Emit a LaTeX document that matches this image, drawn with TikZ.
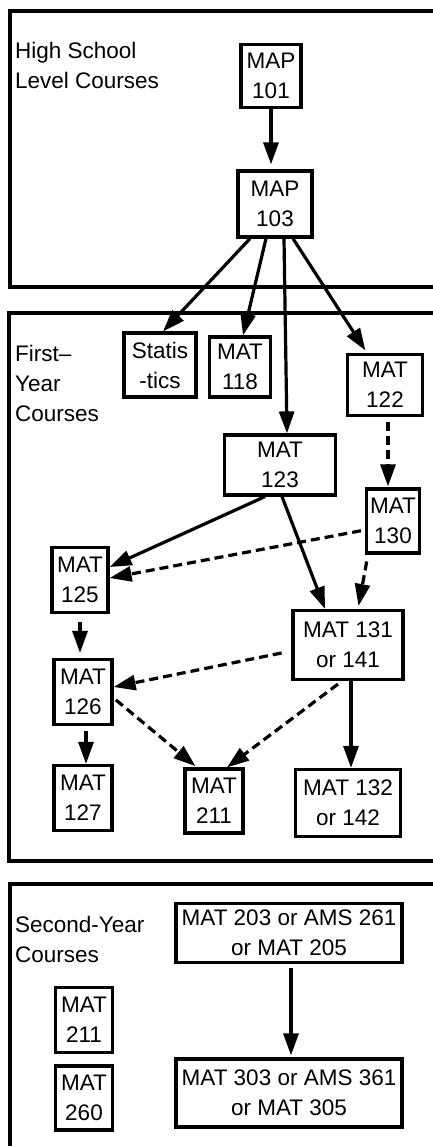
\documentclass[tikz,border=0pt]{standalone}
\usepackage{fontspec}
\setmainfont{Liberation Sans}
\usetikzlibrary{arrows.meta}

\begin{document}
\begin{tikzpicture}[x=1pt, y=-1pt,
	every node/.style={font=\fontsize{22.5}{30}\selectfont},
	>={Triangle[length=22pt, width=15pt]},
	course/.style={draw, line width=3.2pt, align=center, inner sep=2pt},
	panel/.style={line width=3.2pt},
	req/.style={->, line width=3.2pt},
	opt/.style={->, line width=3.2pt, dash pattern=on 9pt off 5pt},
	lbl/.style={anchor=north west, align=left, inner sep=0pt}]
	\useasboundingbox (0,0) rectangle (433,1146);
	\clip (0,0) rectangle (433,1146);
	% panels
	\draw[panel] (10,11) rectangle (460,287);
	\draw[panel] (9,313) rectangle (460,861);
	\draw[panel] (10,884) rectangle (460,1170);
	\node[lbl] (HS) at (15,42) {High School\\Level Courses};
	\node[lbl] (FY) at (15,345) {First\textendash\\Year\\Courses};
	\node[lbl] (SY) at (15,916) {Second-Year\\Courses};
	% high school
	\node[course, minimum width=60pt, minimum height=63pt] (P101) at (271,76) {MAP\\101};
	\node[course, minimum width=74pt, minimum height=66pt] (P103) at (275,204) {MAP\\103};
	% first year
	\node[course, minimum width=72pt, minimum height=64pt] (St) at (160,365) {Statis\\-tics};
	\node[course, minimum width=61pt, minimum height=60pt] (M118) at (240,367) {MAT\\118};
	\node[course, minimum width=75pt, minimum height=61pt] (M122) at (385,385) {MAT\\122};
	\node[course, minimum width=111pt, minimum height=60pt] (M123) at (280,465) {MAT\\123};
	\node[course, minimum width=53pt, minimum height=64pt] (M130) at (393,521) {MAT\\130};
	\node[course, minimum width=56pt, minimum height=65pt] (M125) at (80,580) {MAT\\125};
	\node[course, minimum width=110pt, minimum height=69pt] (M131) at (348,645) {MAT 131\\or 141};
	\node[course, minimum width=58pt, minimum height=65pt] (M126) at (83,692) {MAT\\126};
	\node[course, minimum width=58pt, minimum height=65pt] (M127) at (83,798) {MAT\\127};
	\node[course, minimum width=58pt, minimum height=64pt] (M211) at (214,801) {MAT\\211};
	\node[course, minimum width=105pt, minimum height=67pt] (M132) at (348,803) {MAT 132\\or 142};
	% second year
	\node[course, minimum width=226pt, minimum height=59pt] (M203) at (289,933) {MAT 203 or AMS 261\\or MAT 205};
	\node[course, minimum width=226pt, minimum height=68pt] (M303) at (289,1093) {MAT 303 or AMS 361\\or MAT 305};
	\node[course, minimum width=57pt, minimum height=65pt] (S211) at (84,1020) {MAT\\211};
	\node[course, minimum width=57pt, minimum height=64pt] (S260) at (84,1098) {MAT\\260};
	% prerequisites
	\draw[req, shorten >=5pt] (P101.south) -- (P101.south |- P103.north);
	\draw[req] ([xshift=-25pt]P103.south) -- ([xshift=3pt]St.north);
	\draw[req] ([xshift=-9pt]P103.south) -- ([xshift=3pt]M118.north);
	\draw[req] ([xshift=9pt]P103.south) -- ([xshift=7pt]M123.north);
	\draw[req, shorten >=3pt] ([xshift=18pt]P103.south) -- ([xshift=-18pt]M122.north);
	\draw[opt, shorten <=5pt, shorten >=1pt] ([xshift=3pt]M122.south) -- ([xshift=-5pt]M130.north);
	\draw[req] ([xshift=-15pt]M123.south) -- ([yshift=13pt]M125.east);
	\draw[req] ([xshift=2pt]M123.south) -- ([xshift=-23pt]M131.north);
	\draw[opt, shorten <=4pt] ([yshift=-9pt]M130.west) -- ([yshift=2pt]M125.east);
	\draw[opt, shorten <=7pt, shorten >=3pt] ([xshift=-25pt]M130.south) -- ([xshift=10pt]M131.north);
	\draw[req, shorten <=8pt, shorten >=5pt] (M125.south) -- (M125.south |- M126.north);
	\draw[opt, shorten <=10pt] ([yshift=-6pt]M131.west) -- ([yshift=5pt]M126.east);
	\draw[req, shorten <=5pt] ([xshift=3pt]M126.south) -- ([xshift=3pt]M126.south |- M127.north);
	\draw[opt, shorten <=3pt, shorten >=2pt] ([yshift=-6pt]M126.east) -- ([xshift=-17pt]M211.north);
	\draw[opt, shorten <=5pt] ([xshift=-6pt]M131.south) -- ([xshift=13pt]M211.north);
	\draw[req] ([xshift=3pt]M131.south) -- ([xshift=3pt]M131.south |- M132.north);
	\draw[req, shorten <=4pt, shorten >=2pt] ([xshift=2pt]M203.south) -- ([xshift=2pt]M203.south |- M303.north);
\end{tikzpicture}
\end{document}
